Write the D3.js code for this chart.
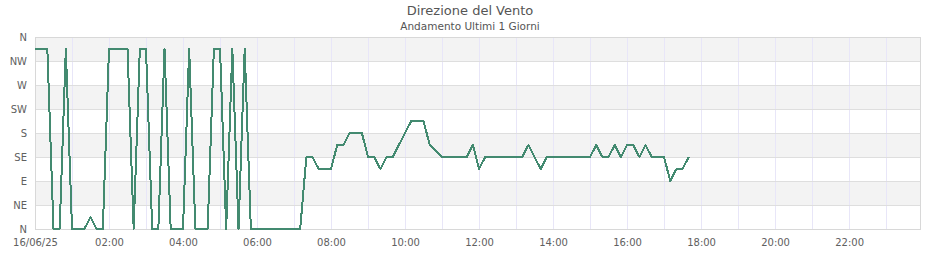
<!DOCTYPE html>
<html>
<head>
<meta charset="utf-8">
<script src="https://cdn.jsdelivr.net/npm/d3@7"></script>
<style>
  body { margin: 0; background: #fff; }
  svg { display: block; font-family: "DejaVu Sans", sans-serif; }
</style>
</head>
<body>
<div id="chart"></div>
<script>
  // wind direction (degrees, 0 = N), one reading every 10 minutes from 00:00
  var startTime = "2025-06-16T00:00:00";
  var stepMinutes = 10;
  var direction = [
    337.5, 337.5, 337.5, 0, 0, 337.5, 0, 0, 0, 22.5,
    0, 0, 337.5, 337.5, 337.5, 337.5, 0, 337.5, 337.5, 0,
    0, 337.5, 0, 0, 0, 337.5, 0, 0, 0, 337.5,
    337.5, 0, 337.5, 0, 337.5, 0, 0, 0, 0, 0,
    0, 0, 0, 0, 135, 135, 112.5, 112.5, 112.5, 157.5,
    157.5, 180, 180, 180, 135, 135, 112.5, 135, 135, 157.5,
    180, 202.5, 202.5, 202.5, 157.5, 146, 135, 135, 135, 135,
    135, 157.5, 112.5, 135, 135, 135, 135, 135, 135, 135,
    157.5, 135, 112.5, 135, 135, 135, 135, 135, 135, 135,
    135, 157.5, 135, 135, 157.5, 135, 157.5, 157.5, 135, 157.5,
    135, 135, 135, 90, 112.5, 112.5, 135
  ];

  var yTickValues = [0, 45, 90, 135, 180, 225, 270, 315, 360];
  var yTickLabels = ["N", "NE", "E", "SE", "S", "SW", "W", "NW", "N"];

  var title = "Direzione del Vento";
  var subtitle = "Andamento Ultimi 1 Giorni";

  var svgWidth = 940;
  var svgHeight = 260;
  var margin = { top: 37, right: 20, bottom: 31, left: 35 };
  var width = svgWidth - margin.left - margin.right;
  var height = svgHeight - margin.top - margin.bottom;

  var svg = d3.select("#chart")
    .append("svg")
    .attr("width", svgWidth)
    .attr("height", svgHeight);

  var t0 = new Date(startTime);
  var points = direction.map(function(v, i) {
    return { time: new Date(t0.getTime() + i * stepMinutes * 60000), value: v };
  });

  var xScale = d3.scaleTime()
    .domain([t0, new Date(t0.getTime() + (23 * 60 + 55) * 60000)])
    .range([0, width]);

  var yScale = d3.scaleLinear()
    .domain([0, 360])
    .range([height, 0]);

  var chartGroup = svg.append("g")
    .attr("transform", `translate(${margin.left}, ${margin.top})`);

  // alternating bands
  for (var k = 0; k < yTickValues.length - 1; k++) {
    if ((yTickValues.length - 2 - k) % 2 === 0) {
      chartGroup.append("rect")
        .attr("x", 0)
        .attr("y", yScale(yTickValues[k + 1]))
        .attr("width", width)
        .attr("height", yScale(yTickValues[k]) - yScale(yTickValues[k + 1]))
        .attr("fill", "#f3f3f3");
    }
  }

  // hourly vertical grid
  var hours = d3.timeHour.range(new Date(t0.getTime() + 3600000), xScale.domain()[1]);
  chartGroup.selectAll("line.vgrid")
    .data(hours)
    .enter()
    .append("line")
    .attr("class", "vgrid")
    .attr("x1", d => Math.round(xScale(d)) + 0.5)
    .attr("x2", d => Math.round(xScale(d)) + 0.5)
    .attr("y1", 0)
    .attr("y2", height)
    .attr("stroke", "#e8e6f8")
    .attr("stroke-width", 1);

  // horizontal grid
  chartGroup.selectAll("line.hgrid")
    .data(yTickValues)
    .enter()
    .append("line")
    .attr("class", "hgrid")
    .attr("x1", 0)
    .attr("x2", width)
    .attr("y1", d => Math.round(yScale(d)) + 0.5)
    .attr("y2", d => Math.round(yScale(d)) + 0.5)
    .attr("stroke", "#dedede");

  // frame
  chartGroup.append("rect")
    .attr("x", 0.5)
    .attr("y", 0.5)
    .attr("width", width)
    .attr("height", height)
    .attr("fill", "none")
    .attr("stroke", "#d8d8d8");

  // axes
  var xAxis = d3.axisBottom(xScale)
    .ticks(d3.timeHour.every(2))
    .tickSize(0)
    .tickPadding(10)
    .tickFormat(function(d) {
      return d.getHours() === 0 ? d3.timeFormat("%d/%m/%y")(d) : d3.timeFormat("%H:%M")(d);
    });

  var yAxis = d3.axisLeft(yScale)
    .tickValues(yTickValues)
    .tickSize(0)
    .tickPadding(8)
    .tickFormat((d, i) => yTickLabels[i]);

  chartGroup.append("g")
    .attr("transform", `translate(0, ${height})`)
    .call(xAxis)
    .call(g => g.select(".domain").remove())
    .selectAll("text")
    .attr("font-size", "10px")
    .attr("font-family", "DejaVu Sans")
    .attr("fill", "#606060");

  chartGroup.append("g")
    .call(yAxis)
    .call(g => g.select(".domain").remove())
    .selectAll("text")
    .attr("font-size", "10px")
    .attr("font-family", "DejaVu Sans")
    .attr("fill", "#606060");

  // line
  var line = d3.line()
    .x(d => xScale(d.time))
    .y(d => yScale(d.value));

  chartGroup.append("path")
    .datum(points)
    .attr("d", line)
    .attr("fill", "none")
    .attr("stroke", "#438a70")
    .attr("stroke-width", 2)
    .attr("stroke-linejoin", "round")
    .attr("shape-rendering", "crispEdges");

  // titles
  svg.append("text")
    .attr("x", svgWidth / 2)
    .attr("y", 15)
    .attr("text-anchor", "middle")
    .attr("font-size", "13px")
    .attr("fill", "#555")
    .text(title);

  svg.append("text")
    .attr("x", svgWidth / 2)
    .attr("y", 30)
    .attr("text-anchor", "middle")
    .attr("font-size", "10.5px")
    .attr("fill", "#555")
    .text(subtitle);
</script>
</body>
</html>
